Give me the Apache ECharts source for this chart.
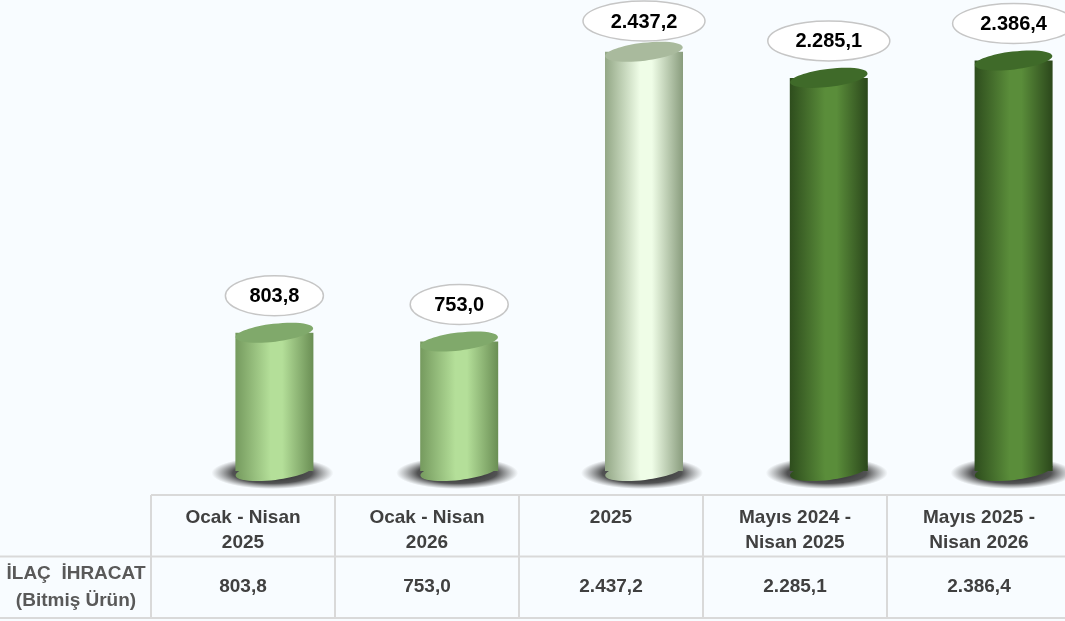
<!DOCTYPE html>
<html><head><meta charset="utf-8">
<script src="https://cdn.jsdelivr.net/npm/echarts@6/dist/echarts.min.js"></script>
<style>html,body{margin:0;padding:0;background:#f8fcff}#c{width:1065px;height:621px}</style>
</head><body><div id="c"></div>
<script>
// ---- data ----
const categories = ['Ocak - Nisan\n2025', 'Ocak - Nisan\n2026', '2025', 'Mayıs 2024 -\nNisan 2025', 'Mayıs 2025 -\nNisan 2026'];
const values = [803.8, 753.0, 2437.2, 2285.1, 2386.4];
const rowHeader = 'İLAÇ  İHRACAT\n(Bitmiş Ürün)';
const tableRows = ['header', 'data'];

// ---- styles ----
const barTone = ['light', 'light', 'pale', 'dark', 'dark'];
const tones = {
  light: { edgeL: '#759a5e', mid: '#b4df99', edgeR: '#6a8e54', top: '#80a96b' },
  pale:  { edgeL: '#93a786', mid: '#effde7', edgeR: '#899c7d', top: '#a9ba9d' },
  dark:  { edgeL: '#2e4d1d', mid: '#5a8d3a', edgeR: '#2b471b', top: '#3f6a29' }
};
const FONT = '"Liberation Sans", Arial, sans-serif';

function fmt(v) {
  const parts = v.toFixed(1).split('.');
  return parts[0].replace(/\B(?=(\d{3})+(?!\d))/g, '.') + ',' + parts[1];
}

function renderBar(params, api) {
  const i = params.dataIndex;
  const top = api.coord([api.value(0), api.value(1)]);
  const base = api.coord([api.value(0), 0]);
  const cx = top[0], w = 78, rx = w / 2, ry = 9, rot = 0.12;
  const t = tones[barTone[i]];
  const grad = () => new echarts.graphic.LinearGradient(0, 0, 1, 0, [
    { offset: 0, color: t.edgeL }, { offset: 0.45, color: t.mid },
    { offset: 0.6, color: t.mid }, { offset: 1, color: t.edgeR }
  ]);
  const shadowGrad = new echarts.graphic.RadialGradient(0.5, 0.5, 0.5, [
    { offset: 0, color: 'rgba(20,20,20,0.95)' },
    { offset: 0.65, color: 'rgba(40,40,40,0.8)' },
    { offset: 1, color: 'rgba(70,70,70,0)' }
  ]);
  const sr = 16;
  const label = fmt(values[i]);
  const lrx = 19 + 6 * label.length, lry = 20;
  const lcy = Math.max(21, top[1] - 37);
  return {
    type: 'group',
    children: [
      { type: 'circle', shape: { cx: 0, cy: 0, r: sr }, x: cx - 2, y: base[1] + 2,
        scaleX: (rx + 22) / sr, scaleY: 1,
        style: { fill: shadowGrad } },
      { type: 'ellipse', shape: { cx: 0, cy: 0, rx: rx, ry: ry }, x: cx, y: base[1], rotation: rot,
        style: { fill: grad() } },
      { type: 'rect', shape: { x: cx - rx, y: top[1], width: w, height: base[1] - top[1] },
        style: { fill: grad() } },
      { type: 'ellipse', shape: { cx: 0, cy: 0, rx: rx, ry: ry }, x: cx, y: top[1], rotation: rot,
        style: { fill: t.top } },
      { type: 'ellipse', shape: { cx: cx, cy: lcy, rx: lrx, ry: lry },
        style: { fill: '#ffffff', stroke: '#c6c6c6', lineWidth: 1.5 } },
      { type: 'text', x: cx, y: lcy + 1,
        style: { text: label, fill: '#000', font: 'bold 20px ' + FONT, align: 'center', verticalAlign: 'middle' } }
    ]
  };
}

function renderTable(params, api) {
  const i = params.dataIndex;
  const hc = api.coord([i, 0]);
  const dc = api.coord([i, 1]);
  const sz = api.size([1, 1]);
  const x0 = hc[0] - sz[0] / 2, x1 = hc[0] + sz[0] / 2;
  const yTop = hc[1] - sz[1] / 2, yMid = hc[1] + sz[1] / 2, yBot = dc[1] + sz[1] / 2;
  const ls = { stroke: '#d9d9d9', lineWidth: 2 };
  const left = i === 0 ? 0 : x0;
  const ch = [
    { type: 'line', shape: { x1: x0, y1: yTop, x2: x1, y2: yTop }, style: ls },
    { type: 'line', shape: { x1: left, y1: yMid, x2: x1, y2: yMid }, style: ls },
    { type: 'line', shape: { x1: left, y1: yBot, x2: x1, y2: yBot }, style: ls },
    { type: 'line', shape: { x1: x0, y1: yTop, x2: x0, y2: yBot }, style: ls },
    { type: 'line', shape: { x1: x1, y1: yTop, x2: x1, y2: yBot }, style: ls },
    { type: 'text', x: hc[0], y: yTop + 10,
      style: { text: categories[i], fill: '#404040', font: 'bold 19px ' + FONT, align: 'center', verticalAlign: 'top', lineHeight: 25 } },
    { type: 'text', x: dc[0], y: dc[1],
      style: { text: fmt(values[i]), fill: '#404040', font: 'bold 19px ' + FONT, align: 'center', verticalAlign: 'middle' } }
  ];
  return { type: 'group', children: ch };
}

const chart = echarts.init(document.getElementById('c'), null, { renderer: 'canvas' });
chart.setOption({
  backgroundColor: '#f8fcff',
  animation: false,
  grid: [
    { left: 182, width: 924, top: 0, height: 471, outerBoundsMode: 'none', containLabel: false },
    { left: 151, width: 920, top: 495, height: 123, outerBoundsMode: 'none', containLabel: false }
  ],
  xAxis: [
    { gridIndex: 0, type: 'category', data: categories, show: false },
    { gridIndex: 1, type: 'category', data: categories, show: false }
  ],
  yAxis: [
    { gridIndex: 0, type: 'value', min: 0, max: 2738, show: false },
    { gridIndex: 1, type: 'category', data: tableRows, inverse: true,
      axisLine: { show: false }, axisTick: { show: false }, splitLine: { show: false },
      axisLabel: {
        formatter: v => v === 'data' ? rowHeader : '',
        align: 'center', margin: 75, color: '#595959', fontSize: 19, fontWeight: 'bold',
        fontFamily: FONT, lineHeight: 27
      } }
  ],
  series: [
    { type: 'custom', xAxisIndex: 0, yAxisIndex: 0, renderItem: renderBar,
      data: values.map((v, i) => [i, v]), clip: false },
    { type: 'custom', xAxisIndex: 1, yAxisIndex: 1, renderItem: renderTable,
      data: categories.map((c, i) => [i, 0]), clip: false }
  ]
});
</script>
</body></html>
